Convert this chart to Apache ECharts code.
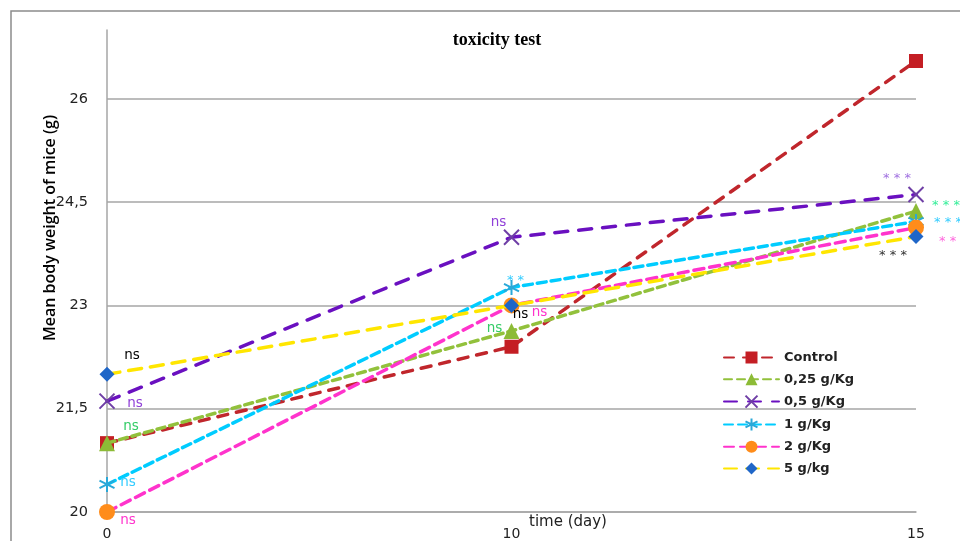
<!DOCTYPE html>
<html>
<head>
<meta charset="utf-8">
<script src="https://cdn.jsdelivr.net/npm/echarts@6.0.0/dist/echarts.min.js"></script>
<style>
html,body{margin:0;padding:0;background:#fff;}
#chart{width:960px;height:541px;}
</style>
</head>
<body>
<div id="chart"></div>
<script>
// ---- data ----
const days = ['0', '10', '15'];
const yTicks = [20, 21.5, 23, 24.5, 26];
const seriesNames = ['Control', '0,25 g/Kg', '0,5 g/Kg', '1 g/Kg', '2 g/Kg', '5 g/kg'];
const control = [21, 22.4, 26.55];
const dose025 = [21, 22.63, 24.37];
const dose05 = [21.61, 23.99, 24.61];
const dose1 = [20.4, 23.26, 24.22];
const dose2 = [20, 23, 24.13];
const dose5 = [22, 23, 24];
const annControl = ['', '', ''];
const ann025 = ['ns', 'ns', '***'];
const ann05 = ['ns', 'ns', '***'];
const ann1 = ['ns', '**', '***'];
const ann2 = ['ns', 'ns', '***'];
const ann5 = ['ns', 'ns', '***'];

// ---- styles ----
const FONT = 'DejaVu Sans';
const styles = [
  {color: '#c0262c', mark: '#c41e24', symbol: 'rect', size: 14, dash: [10, 9],
   labelColors: ['#000', '#000', '#000'], offsets: [[0,0],[0,0],[0,0]]},
  {color: '#92c13c', mark: '#8cbb36', symbol: 'triangle', size: 16, dash: [8, 5],
   labelColors: ['#33cc66', '#33cc66', '#33ee99'], offsets: [[24,-17],[-17,-2],[30,-5]]},
  {color: '#6a10c0', mark: '#6f3fa6', symbol: 'path://M0,0L10,10M10,0L0,10', size: 15, dash: [13, 11],
   labelColors: ['#9040d8', '#9040d8', '#a070e0'], offsets: [[28,2],[-13,-15],[-19,-16]]},
  {color: '#00ccff', mark: '#2aa8d8', symbol: 'path://M5,0L5,10M0.7,2.5L9.3,7.5M0.7,7.5L9.3,2.5', size: 15, dash: [9, 5],
   labelColors: ['#33ccff', '#33ccff', '#33ccff'], offsets: [[21,-2],[4,-7],[32,1]]},
  {color: '#ff33cc', mark: '#ff8c1a', symbol: 'circle', size: 16, dash: [10, 6],
   labelColors: ['#ff33cc', '#ff33cc', '#ff66dd'], offsets: [[21,8],[28,7],[37,14]]},
  {color: '#ffe600', mark: '#1f66c8', symbol: 'diamond', size: 15, dash: [13, 9],
   labelColors: ['#000', '#000', '#333'], offsets: [[25,-19],[9,9],[-23,19]]}
];

const values = [control, dose025, dose05, dose1, dose2, dose5];
const anns = [annControl, ann025, ann05, ann1, ann2, ann5];

function fmtAnn(s) {
  return s.indexOf('*') >= 0 ? s.split('').join(' ') : s;
}

const series = values.map((vals, k) => {
  const st = styles[k];
  const isPath = st.symbol.indexOf('path://') === 0;
  return {
    name: seriesNames[k],
    type: 'line',
    symbol: st.symbol,
    symbolSize: st.size,
    showAllSymbol: true,
    lineStyle: {color: st.color, width: 3.5, type: st.dash, cap: 'round'},
    itemStyle: isPath
      ? {color: st.mark, borderColor: st.mark, borderWidth: 2}
      : {color: st.mark, borderWidth: 0},
    label: {position: 'inside', fontFamily: FONT, fontSize: 13, textBorderWidth: 0},
    emphasis: {disabled: true},
    z: 2 + k,
    data: vals.map((v, i) => ({
      value: v,
      label: {
        show: !!anns[k][i],
        formatter: fmtAnn(anns[k][i]),
        offset: st.offsets[i],
        color: st.labelColors[i],
        fontSize: anns[k][i].indexOf('*') >= 0 ? 13 : 13.5
      }
    }))
  };
});

const chart = echarts.init(document.getElementById('chart'), null, {renderer: 'canvas'});
chart.setOption({
  animation: false,
  backgroundColor: '#fff',
  title: {
    text: 'toxicity test',
    left: 492, top: 26, textAlign: 'center',
    textStyle: {fontFamily: 'Liberation Serif', fontWeight: 'bold', fontSize: 18, color: '#000'}
  },
  grid: {left: 107, right: 44, top: 30, bottom: 27.5},
  legend: {
    orient: 'vertical',
    left: 718, top: 346,
    itemWidth: 55, itemHeight: 15, itemGap: 8.8,
    textStyle: {fontFamily: FONT, fontWeight: 'bold', fontSize: 13, color: '#222'},
    data: seriesNames
  },
  xAxis: {
    type: 'category',
    data: days,
    boundaryGap: false,
    axisLine: {lineStyle: {color: '#a6a6a6', width: 1.5}},
    axisTick: {show: false},
    axisLabel: {fontFamily: FONT, fontSize: 14, color: '#222', margin: 15}
  },
  yAxis: {
    type: 'value',
    min: 20, max: 27, interval: 1.5,
    axisLine: {show: true, lineStyle: {color: '#a6a6a6', width: 1.5}},
    axisTick: {show: false},
    axisLabel: {
      fontFamily: FONT, fontSize: 14.5, color: '#222', margin: 19, showMaxLabel: false,
      formatter: v => (yTicks.indexOf(v) >= 0 ? String(v).replace('.', ',') : '')
    },
    splitLine: {show: true, showMaxLine: false, lineStyle: {color: '#a6a6a6', width: 1.5}}
  },
  graphic: [
    {type: 'rect', shape: {x: 11, y: 11, width: 1100, height: 700},
     style: {fill: 'none', stroke: '#8c8c8c', lineWidth: 1.5}, z: -1, silent: true},
    {type: 'text', x: 50, y: 228, rotation: Math.PI / 2,
     style: {text: 'Mean body weight of mice (g)', fontFamily: 'Open Sans', fontWeight: 600, fontSize: 16,
             fill: '#000', align: 'center', verticalAlign: 'middle'}},
    {type: 'text', x: 568, y: 522,
     style: {text: 'time (day)', fontFamily: FONT, fontSize: 15, fill: '#222', align: 'center', verticalAlign: 'middle'}}
  ],
  series: series
});
</script>
</body>
</html>
